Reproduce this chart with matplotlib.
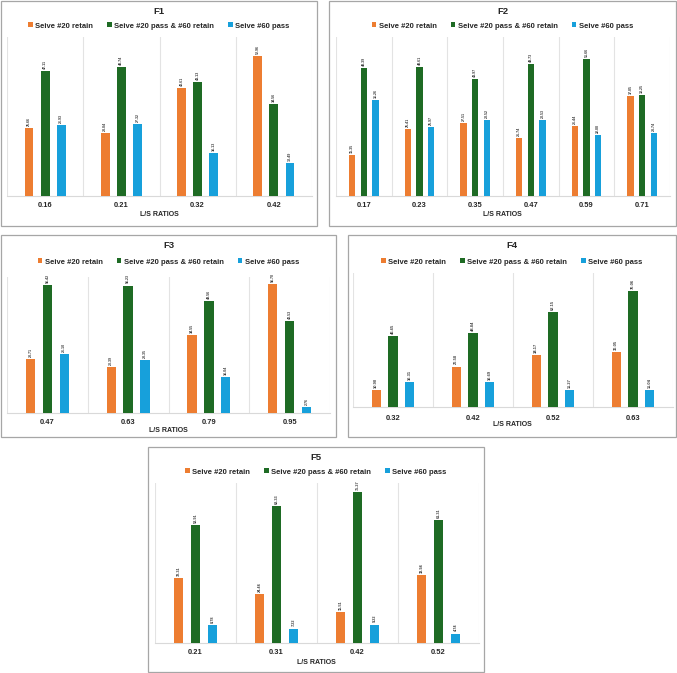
import matplotlib
matplotlib.use('Agg')
import matplotlib.pyplot as plt
from matplotlib.patches import Rectangle, Patch

plt.rcParams['font.family'] = ['Liberation Sans', 'DejaVu Sans']
plt.rcParams['font.weight'] = 'bold'

W, H = 677, 673
SERIES = ['Seive #20 retain', 'Seive #20 pass & #60 retain', 'Seive #60 pass']
COLORS = ['#ED7D31', '#1E6B24', '#17A0DB']

# ---------------------------------------------------------------------------
# Data
# ---------------------------------------------------------------------------
f1_ratios = ['0.16', '0.21', '0.32', '0.42']
f1_ret20 = [25.66, 23.84, 40.61, 52.96]
f1_mid = [47.11, 48.74, 43.13, 34.56]
f1_pass60 = [26.93, 27.32, 16.13, 12.49]

f2_ratios = ['0.17', '0.23', '0.35', '0.47', '0.59', '0.71']
f2_ret20 = [15.35, 25.41, 27.51, 21.74, 26.44, 37.85]
f2_mid = [48.39, 48.61, 43.97, 49.73, 51.66, 38.25]
f2_pass60 = [36.26, 25.97, 28.52, 28.53, 22.88, 23.74]

f3_ratios = ['0.47', '0.63', '0.79', '0.95']
f3_ret20 = [23.71, 20.39, 34.55, 56.70]
f3_mid = [56.42, 56.23, 49.56, 40.53]
f3_pass60 = [26.10, 23.35, 16.04, 2.76]

f4_ratios = ['0.32', '0.42', '0.52', '0.63']
f4_ret20 = [10.90, 26.58, 34.17, 36.05]
f4_mid = [46.65, 48.84, 62.15, 76.06]
f4_pass60 = [16.31, 16.69, 11.27, 11.04]

f5_ratios = ['0.21', '0.31', '0.42', '0.52']
f5_ret20 = [32.31, 24.44, 15.51, 33.94]
f5_mid = [58.91, 68.33, 75.27, 61.31]
f5_pass60 = [8.78, 7.22, 9.22, 4.74]


def fx(x):
    return x / W


def fy(y):
    return 1 - y / H


def draw_panel(fig, name, cats, series, box, plot, ymax, title_y, legend_y,
               tick_y, xlabel_y, vfs=2.6):
    bx0, by0, bx1, by1 = box
    fig.patches.append(Rectangle((fx(bx0), fy(by1)), fx(bx1 - bx0), (by1 - by0) / H,
                                 transform=fig.transFigure, fill=False,
                                 edgecolor='#a6a6a6', lw=0.9))
    px0, py0, px1, py1 = plot
    ax = fig.add_axes([fx(px0), fy(py1), fx(px1 - px0), (py1 - py0) / H])
    n = len(cats)
    xs = list(range(n))
    offs = [-0.21, 0.0, 0.21]
    for vals, off, col in zip(series, offs, COLORS):
        bars = ax.bar([x + off for x in xs], vals, width=0.115, color=col, zorder=3)
        for b, v in zip(bars, vals):
            ax.annotate(f'{v:.2f}', (b.get_x() + b.get_width() / 2, v),
                        xytext=(0, 1.5), textcoords='offset points',
                        rotation=90, ha='center', va='bottom',
                        fontsize=vfs, color='#404040')
    for i in range(n + 1):
        ax.axvline(i - 0.5, color='#e3e3e3', lw=0.8, zorder=1)
    ax.set_xlim(-0.5, n - 0.5)
    ax.set_ylim(0, ymax)
    ax.set_yticks([])
    for s in ['top', 'left', 'right']:
        ax.spines[s].set_visible(False)
    ax.spines['bottom'].set_color('#d9d9d9')
    ax.spines['bottom'].set_linewidth(0.8)
    ax.set_xticks(xs)
    ax.set_xticklabels(cats, fontsize=5.4, color='#262626')
    ax.tick_params(axis='x', length=0, pad=(tick_y - py1 - 2.5) * 0.72)

    cx = fx((bx0 + bx1) / 2)
    fig.text(cx, fy(title_y), name, ha='center', va='center',
             fontsize=6.8, color='#262626')
    fig.text(cx, fy(xlabel_y), 'L/S RATIOS', ha='center', va='center',
             fontsize=5.0, color='#262626')
    handles = [Patch(facecolor=c, edgecolor='none') for c in COLORS]
    fig.legend(handles, SERIES, loc='center', ncol=3,
               bbox_to_anchor=(cx, fy(legend_y)), bbox_transform=fig.transFigure,
               frameon=False, fontsize=5.5, handlelength=0.6, handleheight=0.6,
               handletextpad=0.35, columnspacing=1.8, borderpad=0,
               labelcolor='#262626')
    return ax


fig = plt.figure(figsize=(W / 100, H / 100), dpi=100)

draw_panel(fig, 'F1', f1_ratios, [f1_ret20, f1_mid, f1_pass60],
           (1, 1, 317, 226), (7, 37, 312, 196), 60, 11, 26, 204, 215)
draw_panel(fig, 'F2', f2_ratios, [f2_ret20, f2_mid, f2_pass60],
           (329, 1, 676, 226), (336, 37, 670, 196), 60, 11, 26, 204, 215)
draw_panel(fig, 'F3', f3_ratios, [f3_ret20, f3_mid, f3_pass60],
           (1, 235, 336, 437), (7, 277, 330, 413), 60, 246, 262, 422, 431)
draw_panel(fig, 'F4', f4_ratios, [f4_ret20, f4_mid, f4_pass60],
           (348, 235, 676, 437), (353, 273, 673, 407), 88, 246, 262, 417, 425, vfs=2.9)
draw_panel(fig, 'F5', f5_ratios, [f5_ret20, f5_mid, f5_pass60],
           (148, 447, 484, 672), (155, 483, 479, 643), 80, 457, 472, 651, 662, vfs=2.8)

fig.savefig('out.png', dpi=100)
